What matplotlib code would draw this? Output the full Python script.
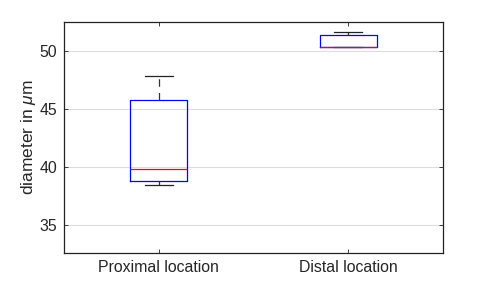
import matplotlib
matplotlib.use("Agg")
import matplotlib.pyplot as plt

plt.rcParams['font.family'] = ['Liberation Sans', 'DejaVu Sans']
plt.rcParams['mathtext.fontset'] = 'custom'
plt.rcParams['mathtext.it'] = 'Liberation Sans:italic'
plt.rcParams['mathtext.rm'] = 'Liberation Sans'

categories = ["Proximal location", "Distal location"]
whisker_low = [38.45, 50.33]
q1 = [38.78, 50.33]
median = [39.8, 50.33]
q3 = [45.78, 51.31]
whisker_high = [47.78, 51.62]
yticks = [35, 40, 45, 50]

stats = []
for i, c in enumerate(categories):
    stats.append(dict(label=c, whislo=whisker_low[i], q1=q1[i], med=median[i],
                      q3=q3[i], whishi=whisker_high[i], fliers=[]))

fig = plt.figure(figsize=(4.91, 2.85), dpi=100)
ax = fig.add_axes([64/491, 1 - 253/285, (443-64)/491, (253-21.5)/285])

ax.yaxis.grid(True, color='#dcdcdc', linewidth=0.8, zorder=0)
ax.set_axisbelow(True)

ax.bxp(stats, positions=[1, 2], widths=0.3, showfliers=False,
       boxprops=dict(color='blue', linewidth=0.9),
       medianprops=dict(color='red', linewidth=0.9),
       whiskerprops=dict(color='#333333', linewidth=0.9, linestyle=(0, (6, 5))),
       capprops=dict(color='#222222', linewidth=0.9),
       capwidths=0.15)

ax.set_xlim(0.5, 2.5)
ax.set_ylim(32.6, 52.5)
ax.set_yticks(yticks)
ax.set_xticks([1, 2])
ax.set_xticklabels(categories)
ax.tick_params(direction='in', top=True, right=True, length=3, width=0.6,
               labelsize=11.4, colors='#222222', labelcolor='#262626')
ax.tick_params(axis='x', pad=5)
ax.tick_params(axis='y', pad=5)
for s in ax.spines.values():
    s.set_linewidth(0.9)
    s.set_color('#222222')
ax.set_ylabel(r'diameter in $\mu$m', fontsize=12.5, color='#262626', labelpad=1)

fig.savefig('out.png', dpi=100)
